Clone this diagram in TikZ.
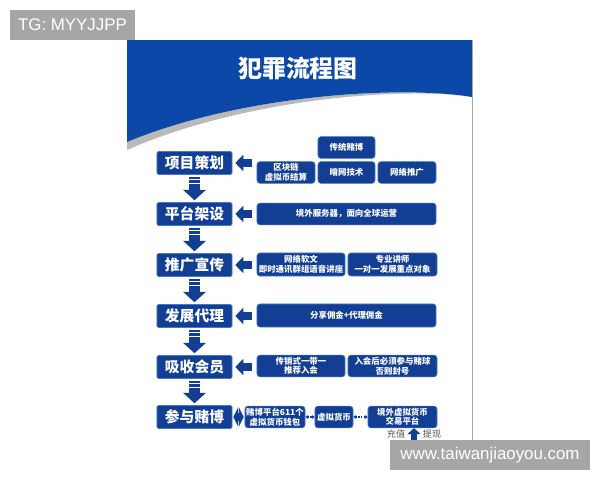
\documentclass[tikz,border=0pt]{standalone}
\usepackage{fontspec}
\usetikzlibrary{arrows.meta,calc}
\newfontfamily\cjk{Noto Sans CJK SC}
\newfontfamily\lsans{Liberation Sans}
\definecolor{headblue}{RGB}{12,72,168}
\definecolor{boxblue}{RGB}{18,62,148}
\definecolor{boxline}{RGB}{70,120,200}
\definecolor{tagray}{RGB}{166,166,166}

\begin{document}
\begin{tikzpicture}[x=0.025cm, y=-0.025cm]
 \tikzstyle{stepbox}=[rectangle, fill=boxblue, draw=boxline, line width=0.4pt, rounded corners=1pt, text=white, minimum width=1.875cm, minimum height=0.575cm, inner sep=0pt, font=\cjk\bfseries\fontsize{10.5}{11}\selectfont]
 \tikzstyle{sidebox}=[rectangle, fill=boxblue, draw=boxline, line width=0.4pt, rounded corners=2pt, text=white, minimum height=0.54cm, inner sep=0pt, align=center, font=\cjk\bfseries\fontsize{6}{6.8}\selectfont]
 \tikzstyle{larr}=[boxblue, line width=0.22cm, -{Triangle[width=0.4cm, length=0.2cm]}, shorten >=3*0.025cm]
 \tikzstyle{darr}=[boxblue, line width=0.27cm, -{Triangle[width=0.56cm, length=0.26cm]}]
 \tikzstyle{tag}=[rectangle, fill=tagray, text=white, inner sep=0pt, font=\lsans\fontsize{12}{12}\selectfont]
 %
 \fill[white] (0,0) rectangle (600,480);
 %% header
 \fill[gray!55] (472,97) .. controls (400,86) and (240,100) .. (127,150) -- (127,142) .. controls (240,95) and (400,85) .. (472,97) -- cycle;
 \fill[headblue] (127,40) -- (472,40) -- (472,97) .. controls (400,85) and (240,95) .. (127,142) -- cycle;
 \draw[gray!70, line width=0.6pt] (472,40) -- (472,441);
 \node[text=white, font=\cjk\bfseries\fontsize{17}{17}\selectfont] (title) at (298,68) {犯罪流程图};
 %
 \node[stepbox] (S1) at (194.5,163) {项目策划};
 \node[stepbox] (S2) at (194.5,214) {平台架设};
 \node[stepbox] (S3) at (194.5,265) {推广宣传};
 \node[stepbox] (S4) at (194.5,316) {发展代理};
 \node[stepbox] (S5) at (194.5,367) {吸收会员};
 \node[stepbox] (S6) at (194.5,417) {参与赌博};
 %
 \node[sidebox, minimum width=1.425cm] (A1) at (346.5,147.5) {传统赌博};
 \node[sidebox, minimum width=1.45cm] (B1) at (286,172.5) {区块链\\虚拟币结算};
 \node[sidebox, minimum width=1.425cm] (C1) at (346.5,172.5) {暗网技术};
 \node[sidebox, minimum width=1.45cm] (D1) at (407,172.5) {网络推广};
 %
 \node[sidebox, minimum width=4.475cm] (B2) at (346.5,214) {境外服务器，面向全球运营};
 %
 \node[sidebox, minimum width=2.2cm, minimum height=0.575cm] (B3) at (301,264.5) {网络软文\\即时通讯群组语音讲座};
 \node[sidebox, minimum width=2.225cm, minimum height=0.575cm] (C3) at (392.5,264.5) {专业讲师\\一对一发展重点对象};
 %
 \node[sidebox, minimum width=4.475cm, minimum height=0.575cm] (B4) at (346.5,315.5) {分享佣金+代理佣金};
 %
 \node[sidebox, minimum width=2.2cm] (B5) at (301,366) {传销式一带一\\推荐入会};
 \node[sidebox, minimum width=2.225cm] (C5) at (392.5,366) {入会后必须参与赌球\\否则封号};
 %
 \node[sidebox, minimum width=1.5cm] (B6) at (275,417) {赌博平台611个\\虚拟货币钱包};
 \node[sidebox, minimum width=0.95cm] (C6) at (334,417) {虚拟货币};
 \node[sidebox, minimum width=1.725cm] (D6) at (402.5,417) {境外虚拟货币\\交易平台};
 %%
 \foreach \r/\s in {B1/S1, B2/S2, B3/S3, B4/S4, B5/S5}
  \draw[larr] ($(\r.west |- \s.east)+(-5,0)$) -- (\s.east);
 \foreach \a/\b in {S1/S2, S2/S3, S3/S4, S4/S5, S5/S6} {
  \draw[darr] ($(\a.south)+(0,2)$) -- ($(\b.north)+(0,-2)$);
  \draw[white, line width=0.03cm] ($(\a.south)+(-7,5)$) -- ++(14,0);
  \draw[white, line width=0.03cm] ($(\a.south)+(-7,8.5)$) -- ++(14,0);
 }
 \draw[boxblue, line width=0.2cm, {Triangle[width=0.48cm, length=0.12cm]}-{Triangle[width=0.48cm, length=0.12cm]}] ($(S6.east)+(1,0)$) -- ($(B6.west)+(-1,0)$);
 \draw[boxblue, line width=0.9pt, densely dotted, {Latex[length=2pt, width=3pt]}-{Latex[length=2pt, width=3pt]}] (B6.east) -- (C6.west);
 \draw[boxblue, line width=0.9pt, densely dotted, {Latex[length=2pt, width=3pt]}-{Latex[length=2pt, width=3pt]}] (C6.east) -- (D6.west);
 %
 \coordinate (up) at (414,441);
 \draw[boxblue, line width=0.15cm, -{Triangle[width=0.32cm, length=0.15cm]}] (up) -- (D6.south -| up);
 \node[text=gray!70!black, font=\cjk\fontsize{6.5}{6.5}\selectfont] (cz) at (396,434) {充值};
 \node[text=gray!70!black, font=\cjk\fontsize{6.5}{6.5}\selectfont] (tx) at (432,434) {提现};
 %% tags
 \node[tag, minimum width=3.125cm, minimum height=0.75cm] (tg) at (72.5,25) {TG: MYYJJPP};
 \node[tag, minimum width=5cm, minimum height=0.75cm] (site) at (490,455) {www.taiwanjiaoyou.com};
\end{tikzpicture}
\end{document}
